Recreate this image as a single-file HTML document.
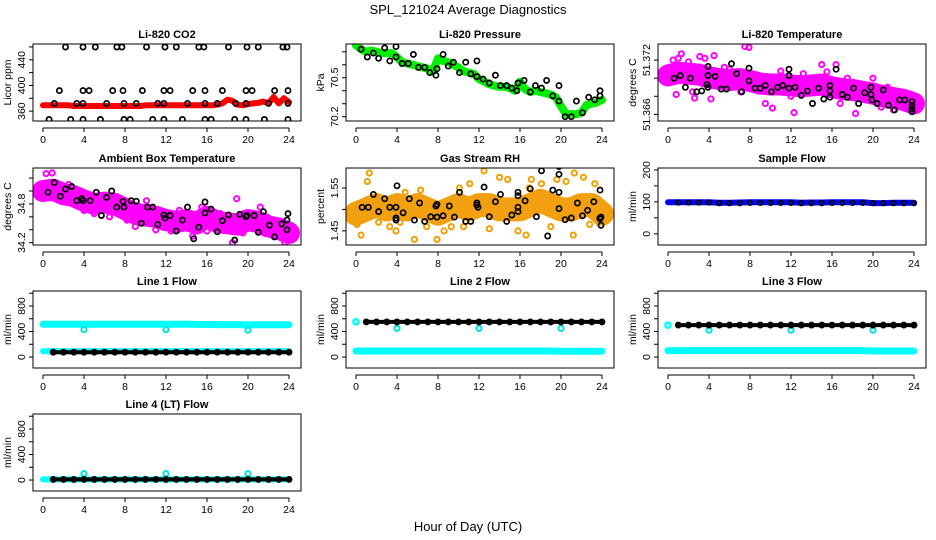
<!DOCTYPE html>
<html><head><meta charset="utf-8"><style>
html,body{margin:0;padding:0;background:#fff;}
svg{display:block;font-family:"Liberation Sans",sans-serif;}
</style></head><body>
<svg id="chart" width="936" height="540" viewBox="0 0 936 540" xmlns="http://www.w3.org/2000/svg">
<text x="468" y="14" font-size="13" text-anchor="middle">SPL_121024  Average Diagnostics</text>
<text x="468" y="531" font-size="13" text-anchor="middle">Hour of Day (UTC)</text>
</svg>
<script>
// ---- data ----
const xTicks = [0,4,8,12,16,20,24];
const halfHours = [0,0.5,1,1.5,2,2.5,3,3.5,4,4.5,5,5.5,6,6.5,7,7.5,8,8.5,9,9.5,10,10.5,11,11.5,12,12.5,13,13.5,14,14.5,15,15.5,16,16.5,17,17.5,18,18.5,19,19.5,20,20.5,21,21.5,22,22.5,23,23.5,24];
const hours = [0,1,2,3,4,5,6,7,8,9,10,11,12,13,14,15,16,17,18,19,20,21,22,23,24];

const co2Red = [369,369,369,369,369,369,368,368,368,368,368,368,368,368,368,368,368,368,368,368,369,369,369,369,369,369,369,369,369,369,369,369,369,369,370,372,378,376,370,369,371,372,373,375,372,382,372,380,374];
const co2BlackT = [2.2,3.9,5.1,7.2,7.7,10.1,11.9,13.0,15.2,15.7,18.1,19.9,21.0,23.4,23.8, 1.6,3.9,4.5,6.8,7.8,9.7,11.8,12.4,14.6,15.8,17.5,19.8,20.4,22.6,23.9, 1.1,3.3,3.9,6.2,7.9,9.1,11.2,11.8,14.1,15.8,17.0,18.8,19.8,22.0,23.9, 0.6,2.7,3.9,5.6,7.9,8.5,10.7,11.8,13.6,15.8,16.4,18.7,19.8,21.6,23.9];
const co2BlackV = [460,460,460,460,460,460,460,460,460,460,460,460,460,460,460, 392,392,392,392,392,392,392,392,392,392,392,392,392,392,392, 372,372,372,372,372,372,372,372,372,372,372,372,372,372,372, 347,347,347,347,347,347,347,347,347,347,347,347,347,347,347];

const presGreen = [70.75,70.72,70.70,70.71,70.70,70.69,70.69,70.69,70.66,70.62,70.61,70.60,70.59,70.58,70.57,70.55,70.65,70.63,70.62,70.60,70.58,70.55,70.54,70.53,70.49,70.47,70.45,70.44,70.43,70.43,70.42,70.40,70.47,70.41,70.39,70.40,70.39,70.38,70.37,70.35,70.28,70.22,70.22,70.22,70.23,70.29,70.30,70.31,70.33];
const presBlackT = [0.5,1.1,1.7,2.2,2.8,3.3,3.9,3.9,4.5,5.1,5.6,6.1,6.7,7.2,7.8,7.9,8.5,9.0,9.5,10.1,10.7,11.2,11.8,11.8,12.4,13.0,13.6,14.1,14.7,15.2,15.7,15.8,16.4,17.0,17.5,18.1,18.6,19.2,19.8,19.8,20.4,21.0,21.5,22.1,22.7,23.3,23.8,23.8];
const presBlackV = [70.72,70.66,70.69,70.65,70.73,70.63,70.74,70.66,70.61,70.61,70.68,70.58,70.58,70.54,70.52,70.57,70.68,70.59,70.62,70.54,70.62,70.53,70.63,70.51,70.49,70.46,70.52,70.44,70.44,70.42,70.40,70.46,70.48,70.39,70.44,70.42,70.48,70.36,70.44,70.32,70.20,70.20,70.32,70.23,70.35,70.33,70.40,70.36];

const ltBand = [51.3703,51.3706,51.3705,51.3704,51.3701,51.3699,51.3698,51.3699,51.3697,51.3694,51.3693,51.3693,51.3692,51.3691,51.3692,51.3693,51.3690,51.3688,51.3687,51.3685,51.3683,51.3680,51.3678,51.3676,51.3672];
const ltMagT = [0.1,0.5,1.0,1.3,0.8,2.0,2.4,2.6,3.1,3.6,4.1,4.5,4.2,5.5,6.0,6.5,7.1,7.5,7.9,8.8,9.5,10.0,10.2,11.0,12.0,12.3,13.2,14.0,15.0,15.5,16.4,16.8,17.5,18.0,18.3,19.0,20.0,20.8,21.4,22.0,22.5,23.0,23.5,23.8];
const ltMagV = [51.3712,51.3720,51.3722,51.3727,51.3682,51.3718,51.3685,51.3678,51.3724,51.3722,51.3703,51.3725,51.3677,51.3712,51.3710,51.3705,51.3685,51.3735,51.3734,51.3690,51.3672,51.3699,51.3667,51.3708,51.3680,51.3662,51.3705,51.3688,51.3715,51.3707,51.3715,51.3672,51.3700,51.3680,51.3661,51.3690,51.3700,51.3668,51.3690,51.3665,51.3680,51.3683,51.3667,51.3663];
const ltBlackT = [0.6,1.2,1.7,2.2,2.8,3.3,3.8,3.9,3.9,3.9,4.6,5.2,5.7,6.2,6.7,7.2,7.9,7.9,8.5,9.0,9.5,10.1,10.7,11.2,11.8,11.8,11.8,12.4,13.0,13.6,14.1,14.7,15.2,15.8,15.8,15.8,16.4,17.0,17.5,18.1,18.6,19.2,19.8,19.8,19.9,20.4,21.0,21.5,22.1,22.6,23.1,23.8,23.8,23.8,23.8];
const ltBlackV = [51.3700,51.3703,51.3690,51.3700,51.3685,51.3686,51.3693,51.3690,51.3713,51.3703,51.3702,51.3688,51.3688,51.3716,51.3705,51.3685,51.3711,51.3697,51.3689,51.3689,51.3692,51.3685,51.3690,51.3692,51.3710,51.3703,51.3689,51.3690,51.3681,51.3686,51.3672,51.3689,51.3677,51.3692,51.3686,51.3679,51.3710,51.3682,51.3679,51.3689,51.3672,51.3684,51.3690,51.3682,51.3676,51.3672,51.3687,51.3670,51.3665,51.3676,51.3676,51.3674,51.3670,51.3666,51.3663];

const ambBand = [35.00,35.02,34.95,34.92,34.85,34.80,34.82,34.80,34.72,34.65,34.62,34.60,34.55,34.52,34.55,34.50,34.60,34.52,34.50,34.48,34.55,34.52,34.45,34.42,34.35];
const ambMagT = [0,0.3,0.9,0.2,2.5,4.0,5.0,6.5,8.2,9.0,10.1,11.0,12.5,13.3,14.6,15.5,16.0,18.5,18.9,19.5,21.2,22.5,23.6,23.9,21.8,17.3];
const ambMagV = [34.95,35.27,35.28,35.05,35.10,34.70,34.65,34.60,34.55,34.45,34.85,34.40,34.38,34.70,34.30,34.75,34.38,34.20,34.88,34.35,34.75,34.30,34.20,34.25,34.60,34.65];
const ambBlackT = [0.5,1.1,1.7,2.2,2.8,3.3,3.8,3.9,4.6,5.2,5.7,6.2,6.7,7.2,7.8,7.9,8.6,9.1,9.6,10.2,10.7,11.2,11.8,11.9,12.4,13.0,13.6,14.1,14.7,15.2,15.8,15.8,16.4,17.0,17.5,18.1,18.7,19.2,19.8,19.9,20.6,21.0,21.5,22.1,22.6,23.3,23.8,23.8,23.9];
const ambBlackV = [34.98,35.13,34.92,35.03,35.07,34.85,34.88,34.85,34.85,34.98,34.62,34.90,35.00,34.75,34.84,34.75,34.85,34.84,34.50,34.75,34.75,34.48,34.63,34.58,34.62,34.38,34.55,34.75,34.26,34.44,34.83,34.66,34.72,34.37,34.54,34.63,34.24,34.64,34.60,34.62,34.62,34.36,34.68,34.47,34.29,34.49,34.40,34.55,34.65];

const rhBand = [1.49,1.50,1.51,1.50,1.51,1.50,1.51,1.50,1.49,1.50,1.51,1.50,1.51,1.51,1.50,1.50,1.50,1.51,1.52,1.51,1.50,1.50,1.51,1.51,1.49];
const rhOrT = [0.1,0.5,1.3,1.1,2.2,3.3,3.9,4.8,5.7,6.3,6.9,7.9,8.6,9.3,10.1,11.1,12.5,13.0,14.0,14.8,15.8,16.6,17.1,18.1,19.0,19.6,20.5,21.2,21.3,22.2,22.8,23.3,23.7,10.5,4.3,16.9];
const rhOrV = [1.465,1.44,1.585,1.565,1.47,1.46,1.45,1.54,1.43,1.545,1.46,1.43,1.45,1.46,1.55,1.56,1.59,1.455,1.575,1.57,1.45,1.44,1.57,1.56,1.46,1.57,1.565,1.44,1.585,1.575,1.465,1.56,1.47,1.46,1.47,1.55];
const rhBlackT = [0.6,1.2,1.7,2.2,2.8,3.3,3.9,3.9,3.9,4.0,4.6,5.2,5.7,6.2,6.7,7.3,7.8,7.9,7.9,8.5,9.1,9.6,10.1,10.7,11.2,11.8,11.8,11.9,12.5,13.0,13.6,14.1,14.7,15.2,15.8,15.8,15.8,15.8,16.5,17.0,17.6,18.1,18.7,19.2,19.8,19.8,19.8,19.8,20.4,21.0,21.6,22.1,22.6,23.2,23.8,23.8,23.8,23.9,23.9];
const rhBlackV = [1.505,1.505,1.535,1.495,1.525,1.505,1.505,1.48,1.475,1.555,1.492,1.525,1.475,1.515,1.472,1.483,1.508,1.512,1.482,1.485,1.508,1.482,1.54,1.472,1.472,1.515,1.51,1.505,1.552,1.483,1.518,1.535,1.472,1.487,1.54,1.532,1.505,1.495,1.52,1.548,1.483,1.59,1.438,1.545,1.60,1.582,1.54,1.502,1.476,1.48,1.515,1.485,1.498,1.518,1.545,1.48,1.478,1.463,1.482];

const sfBlue = [99,99,99,99,99,97,97,98,99,99,99,99,99,97,98,98,99,99,99,99,96,96,97,97,97];
const sfBlack = [98,98,98,98,98,96,96,96,97,97,97,97,97,96,96,96,97,97,97,97,96,96,96,96,96];

const l1CyanHi = [515,515,515,515,515,515,515,515,515,515,515,515,515,515,515,512,510,508,508,508,505,505,505,505,505];
const l1CyanLo = [90,90,90,90,90,90,90,90,90,90,90,90,90,90,90,90,90,90,90,90,90,90,90,90,90];
const l1Black = [75,75,75,75,75,75,75,75,75,75,75,75,75,75,75,75,75,75,75,75,75,75,75,75,75];
const l2Black = [550,550,550,550,550,550,550,550,550,550,550,550,550,550,550,550,550,550,550,550,550,550,550,550,550];
const l2CyanLo = [95,95,95,95,95,95,95,95,95,95,95,95,95,95,95,95,95,95,95,95,92,92,92,92,92];
const l3Black = [500,500,500,500,500,500,500,500,500,500,500,500,500,500,500,500,500,500,500,500,500,500,500,500,500];
const l3CyanLo = [100,100,100,100,100,100,100,100,100,100,100,100,100,100,100,100,100,100,100,100,95,95,95,95,95];
const l4Black = [10,10,10,10,10,10,10,10,10,10,10,10,10,10,10,10,10,10,10,10,10,10,10,10,10];
const l4Cyan = [10,10,10,10,10,10,10,10,10,10,10,10,10,10,10,10,10,10,10,10,10,10,10,10,10];
const spikeT = [4,12,20];
const l1Dips = [430,430,420];
const l2Dips = [450,450,450];
const l3Dips = [420,420,420];
const l4Spikes = [100,100,100];
const startT = [0];
const l2Start = [550];
const l3Start = [500];

// ---- drawing ----
const svg = document.getElementById('chart');
const NS = 'http://www.w3.org/2000/svg';
function mk(tag, attrs, parent){const e=document.createElementNS(NS,tag);for(const k in attrs)e.setAttribute(k,attrs[k]);(parent||svg).appendChild(e);return e;}
const colLeft=[33,346,658], rowTop=[44,168,291,414], boxW=268, boxH=77;

function panel(o){
  const L=colLeft[o.col], T=rowTop[o.row], B=T+boxH, R=L+boxW;
  const g=mk('g',{});
  
  
  const sx=h=>L+10+h*10.25;
  const sy=v=>B-(v-o.ymin)/(o.ymax-o.ymin)*boxH;
  const clip=mk('clipPath',{id:'c'+o.name},g);mk('rect',{x:L,y:T,width:boxW,height:boxH},clip);
  const plot=mk('g',{'clip-path':'url(#c'+o.name+')'},g);
  o.series.forEach(s=>{
    if(s.type==='band'){
      const p=s.v.map((v,i)=>sx(s.t[i]).toFixed(1)+','+sy(v).toFixed(1)).join(' ');
      const pl=mk('polyline',{points:p,fill:'none',stroke:s.color,'stroke-width':s.w,'stroke-linejoin':'round','stroke-linecap':'round',opacity:s.op||1},plot);
      
      
    } else {
      const sg=mk('g',{},plot);
      
      
      s.v.forEach((v,i)=>{
        const c=mk('circle',{cx:sx(s.t[i]).toFixed(1),cy:sy(v).toFixed(1),r:s.r||2.6,fill:'none',stroke:s.color,'stroke-width':s.sw||1.7},sg);
        
        
      });
    }
  });
  const box=mk('rect',{x:L,y:T,width:boxW,height:boxH,fill:'none',stroke:'#000','stroke-width':1},g);
  
  
  const tt=mk('text',{x:(L+R)/2,y:T-6,'font-size':11,'font-weight':'bold','text-anchor':'middle'},g);tt.textContent=o.title;
  
  
  const xa=mk('g',{},g);
  
  
  const ay=B+7;
  mk('line',{x1:sx(0),x2:sx(24),y1:ay,y2:ay,stroke:'#000'},xa);
  xTicks.forEach(t=>{mk('line',{x1:sx(t),x2:sx(t),y1:ay,y2:ay+4,stroke:'#000'},xa);
    const tx=mk('text',{x:sx(t),y:ay+15,'font-size':10.5,'text-anchor':'middle'},xa);tx.textContent=t;});
  const ya=mk('g',{},g);
  
  
  mk('line',{x1:L,x2:L,y1:sy(o.yt[0]),y2:sy(o.yt[o.yt.length-1]),stroke:'#000'},ya);
  o.yt.forEach(t=>mk('line',{x1:L-4,x2:L,y1:sy(t),y2:sy(t),stroke:'#000'},ya));
  o.yl.forEach((t,i)=>{const y=sy(t);const tx=mk('text',{x:L-8,y:y,'font-size':10.5,'text-anchor':'middle',transform:'rotate(-90 '+(L-8)+' '+y+')'},ya);tx.textContent=o.ylt[i];});
  const yt=mk('text',{x:L-22,y:(T+B)/2,'font-size':10.5,'text-anchor':'middle',transform:'rotate(-90 '+(L-22)+' '+((T+B)/2)+')'},g);yt.textContent=o.ylab;
  
  
}
const flowT=[0,200,400,600,800,1000], flowL=[0,400,800];
panel({name:'panel-li820-co2',col:0,row:0,title:'Li-820 CO2',ylab:'Licor ppm',ymin:344.6,ymax:464.6,yt:[360,380,400,420,440,460],yl:[360,400,440],ylt:['360','400','440'],
  series:[{type:'band',name:'co2-series',t:halfHours,v:co2Red,color:'#ff0000',w:6},{type:'pts',name:'co2-avg-points',t:co2BlackT,v:co2BlackV,color:'#000'}]});
panel({name:'panel-li820-pressure',col:1,row:0,title:'Li-820 Pressure',ylab:'kPa',ymin:70.167,ymax:70.76,yt:[70.2,70.3,70.4,70.5,70.6,70.7],yl:[70.2,70.5],ylt:['70.2','70.5'],
  series:[{type:'band',name:'pressure-series',t:halfHours,v:presGreen,color:'#00ee00',w:8},{type:'pts',name:'pressure-avg-points',t:presBlackT,v:presBlackV,color:'#000'}]});
panel({name:'panel-li820-temperature',col:2,row:0,title:'Li-820 Temperature',ylab:'degrees C',ymin:51.36527,ymax:51.37378,yt:[51.366,51.368,51.370,51.372],yl:[51.366,51.372],ylt:['51.366','51.372'],
  series:[{type:'band',name:'temp-band',t:hours,v:ltBand,color:'#ff00ff',w:22},{type:'pts',name:'temp-points',t:ltMagT,v:ltMagV,color:'#ff00ff',sw:2},{type:'pts',name:'temp-avg-points',t:ltBlackT,v:ltBlackV,color:'#000'}]});
panel({name:'panel-ambient-box-temperature',col:0,row:1,title:'Ambient Box Temperature',ylab:'degrees C',ymin:34.164,ymax:35.356,yt:[34.2,34.4,34.6,34.8,35.0,35.2],yl:[34.2,34.8],ylt:['34.2','34.8'],
  series:[{type:'band',name:'ambient-band',t:hours,v:ambBand,color:'#ff00ff',w:22},{type:'pts',name:'ambient-points',t:ambMagT,v:ambMagV,color:'#ff00ff',sw:2},{type:'pts',name:'ambient-avg-points',t:ambBlackT,v:ambBlackV,color:'#000'}]});
panel({name:'panel-gas-stream-rh',col:1,row:1,title:'Gas Stream RH',ylab:'percent',ymin:1.417,ymax:1.5966,yt:[1.45,1.50,1.55],yl:[1.45,1.55],ylt:['1.45','1.55'],
  series:[{type:'band',name:'rh-band',t:hours,v:rhBand,color:'#f2a010',w:24},{type:'pts',name:'rh-points',t:rhOrT,v:rhOrV,color:'#f0a000',sw:2},{type:'pts',name:'rh-avg-points',t:rhBlackT,v:rhBlackV,color:'#000'}]});
panel({name:'panel-sample-flow',col:2,row:1,title:'Sample Flow',ylab:'ml/min',ymin:-35,ymax:206,yt:[0,50,100,150,200],yl:[0,100,200],ylt:['0','100','200'],
  series:[{type:'band',name:'sample-flow-series',t:hours,v:sfBlue,color:'#0000ff',w:6},{type:'pts',name:'sample-flow-avg-points',t:hours.slice(1),v:sfBlack.slice(1),color:'#000',r:2.3}]});
panel({name:'panel-line1-flow',col:0,row:2,title:'Line 1 Flow',ylab:'ml/min',ymin:-172,ymax:1035,yt:flowT,yl:flowL,ylt:['0','400','800'],
  series:[{type:'band',name:'line1-high-series',t:hours,v:l1CyanHi,color:'#00ffff',w:7},{type:'band',name:'line1-low-series',t:hours,v:l1CyanLo,color:'#00ffff',w:6},
  {type:'pts',name:'line1-dips',t:spikeT,v:l1Dips,color:'#00e0e0',sw:2},{type:'band',name:'line1-avg-line',t:hours.slice(1),v:l1Black.slice(1),color:'#000',w:4},{type:'pts',name:'line1-avg-points',t:hours.slice(1),v:l1Black.slice(1),color:'#000'}]});
panel({name:'panel-line2-flow',col:1,row:2,title:'Line 2 Flow',ylab:'ml/min',ymin:-172,ymax:1035,yt:flowT,yl:flowL,ylt:['0','400','800'],
  series:[{type:'band',name:'line2-low-series',t:hours,v:l2CyanLo,color:'#00ffff',w:7},{type:'pts',name:'line2-start',t:startT,v:l2Start,color:'#00ffff',sw:2.5},
  {type:'pts',name:'line2-dips',t:spikeT,v:l2Dips,color:'#00e0e0',sw:2},{type:'band',name:'line2-avg-line',t:hours.slice(1),v:l2Black.slice(1),color:'#000',w:4},{type:'pts',name:'line2-avg-points',t:hours.slice(1),v:l2Black.slice(1),color:'#000'}]});
panel({name:'panel-line3-flow',col:2,row:2,title:'Line 3 Flow',ylab:'ml/min',ymin:-172,ymax:1035,yt:flowT,yl:flowL,ylt:['0','400','800'],
  series:[{type:'band',name:'line3-low-series',t:hours,v:l3CyanLo,color:'#00ffff',w:7},{type:'pts',name:'line3-start',t:startT,v:l3Start,color:'#00ffff',sw:2.5},
  {type:'pts',name:'line3-dips',t:spikeT,v:l3Dips,color:'#00e0e0',sw:2},{type:'band',name:'line3-avg-line',t:hours.slice(1),v:l3Black.slice(1),color:'#000',w:4},{type:'pts',name:'line3-avg-points',t:hours.slice(1),v:l3Black.slice(1),color:'#000'}]});
panel({name:'panel-line4-flow',col:0,row:3,title:'Line 4 (LT) Flow',ylab:'ml/min',ymin:-172,ymax:1035,yt:flowT,yl:flowL,ylt:['0','400','800'],
  series:[{type:'band',name:'line4-series',t:hours,v:l4Cyan,color:'#00ffff',w:6},{type:'pts',name:'line4-spikes',t:spikeT,v:l4Spikes,color:'#00e0e0',sw:2},
  {type:'band',name:'line4-avg-line',t:hours.slice(1),v:l4Black.slice(1),color:'#000',w:4},{type:'pts',name:'line4-avg-points',t:hours.slice(1),v:l4Black.slice(1),color:'#000'}]});
</script>
</body></html>
